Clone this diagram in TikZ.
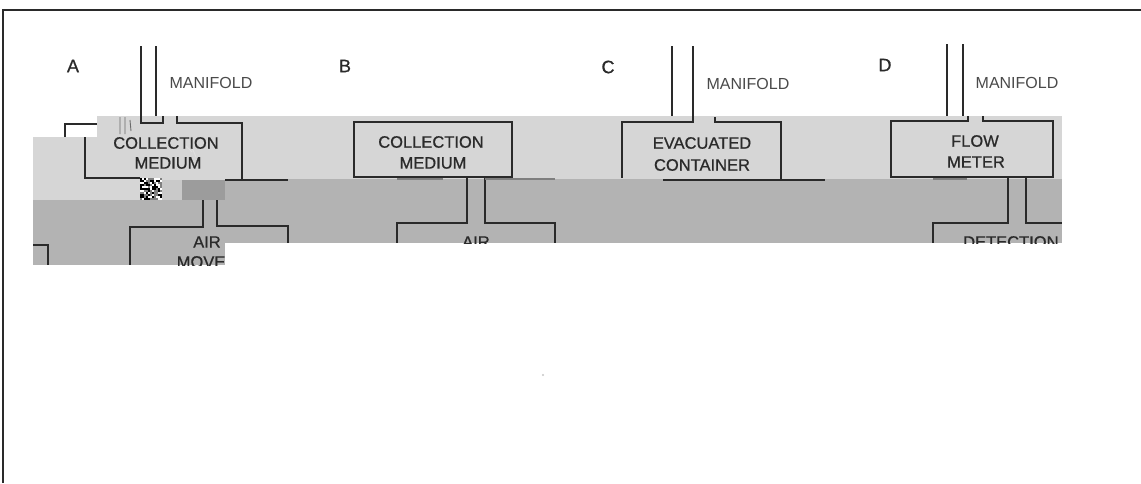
\documentclass[tikz,border=0pt]{standalone}
\usepackage{fontspec}
\setmainfont{Liberation Sans}
\newfontfamily\boxfont[FakeBold=0.8]{Liberation Sans}
\definecolor{lightband}{HTML}{D6D6D6}
\definecolor{darkband}{HTML}{B3B3B3}
\definecolor{ink}{HTML}{2A2A2A}
\definecolor{patch}{HTML}{9C9C9C}
\definecolor{midpatch}{HTML}{C9C9C9}
\begin{document}
\begin{tikzpicture}[x=1pt,y=-1pt,
  wire/.style={draw=ink,line width=1.7pt},
  faint/.style={draw=ink!60,line width=1.2pt},
  txt/.style={font=\boxfont\fontsize{16.5}{20}\selectfont,text=ink,inner sep=0pt},
  letter/.style={font=\boxfont\fontsize{18}{22}\selectfont,text=ink,inner sep=0pt},
  mani/.style={font=\fontsize{16}{20}\selectfont,text=ink!85,inner sep=0pt}]
\useasboundingbox (0,0) rectangle (1141,483);
\fill[white] (0,0) rectangle (1141,483);
% frame
\draw[ink,line width=1.3pt] (3,483) -- (3,10) -- (1141,10);
% bands
\fill[darkband] (225,179) rectangle (1062,243);
\fill[lightband] (97,116) rectangle (1062,179);
\fill[lightband] (33,137) rectangle (225,200);
\fill[darkband] (33,200) rectangle (225,265);

% ---------- panel A ----------
\node[letter] (la) at (73,66) {A};
\node[mani] (ma) at (211,83) {MANIFOLD};
\draw[wire] (141,46) -- (141,123) -- (163,123) -- (163,116);
\draw[wire] (156,46) -- (156,116);
\draw[wire] (177,116) -- (177,123) -- (242,123) -- (242,180);
\draw[wire] (225,180) -- (288,180);
\draw[wire] (97,124) -- (65,124) -- (65,137);
\draw[wire] (85,137) -- (85,178) -- (140,178);
% glitch marks
\draw[ink!70,line width=0.9pt] (120,117) -- (120,134) (125,117) -- (125,134) (130,120) -- (131,131);
\draw[white!85!ink,line width=1pt] (186,146) -- (192,152) (190,143) -- (196,157);
% noise patch
\fill[white] (140,178) rectangle (162,200);
\pgfmathsetseed{7}
\foreach \i in {0,...,10}{\foreach \j in {0,...,10}{%
  \pgfmathrandominteger{\rr}{0}{2}%
  \ifnum\rr=0 \fill[black] (140+2*\i,178+2*\j) rectangle +(2,2);\fi
  \ifnum\rr=1 \fill[gray] (140+2*\i,178+2*\j) rectangle +(2,2);\fi}}
\fill[midpatch] (162,180) rectangle (182,200);
\fill[patch] (182,180) rectangle (225,200);
% lower part (shifted)
\draw[wire] (203,200) -- (203,227) -- (130,227) -- (130,265);
\draw[wire] (217,200) -- (217,226) -- (288,226) -- (288,243);
\draw[wire] (33,245) -- (48,245) -- (48,265);
\node[txt] (ca1) at (166,143) {COLLECTION};
\node[txt] (ca2) at (168,163) {MEDIUM};
\begin{scope}
  \clip (33,200) rectangle (225,265);
  \node[txt] (aa1) at (207,242) {AIR};
  \node[txt] (aa2) at (207,262) {MOVER};
\end{scope}

% ---------- panel B ----------
\node[letter] (lb) at (345,66) {B};
\draw[wire] (354,122) rectangle (512,177);
\node[txt] (cb1) at (431,142) {COLLECTION};
\node[txt] (cb2) at (433,163) {MEDIUM};
\draw[faint] (397,179) -- (443,179);
\draw[wire] (467,177) -- (467,223) -- (397,223) -- (397,243);
\draw[wire] (485,177) -- (485,223) -- (555,223) -- (555,243);
\draw[faint] (485,179) -- (555,179);

% ---------- panel C ----------
\node[letter] (lc) at (608,67) {C};
\node[mani] (mc) at (748,84) {MANIFOLD};
\draw[wire] (672,46) -- (672,116);
\draw[wire] (693,46) -- (693,122) -- (622,122) -- (622,178);
\draw[wire] (715,117) -- (715,122) -- (781,122) -- (781,180);
\draw[wire] (663,180) -- (825,180);
\node[txt] (ec1) at (702,143) {EVACUATED};
\node[txt] (ec2) at (702,165) {CONTAINER};

% ---------- panel D ----------
\node[letter] (ld) at (885,65) {D};
\node[mani] (md) at (1017,83) {MANIFOLD};
\draw[wire] (947,44) -- (947,116);
\draw[wire] (963,44) -- (963,116);
\draw[wire] (968,116) -- (968,121) -- (891,121) -- (891,177) -- (1053,177) -- (1053,121) -- (983,121) -- (983,116);
\draw[faint] (933,179) -- (967,179);
\draw[wire] (1008,177) -- (1008,223) -- (933,223) -- (933,243);
\draw[wire] (1026,177) -- (1026,223) -- (1062,223);
\node[txt] (fd1) at (975,141) {FLOW};
\node[txt] (fd2) at (976,162) {METER};

% clipped lower texts
\begin{scope}
  \clip (225,179) rectangle (1062,243);
  \node[txt] (ab1) at (476,242) {AIR};
  \node[txt,anchor=west] (dd1) at (963,242) {DETECTION};
\end{scope}

% stray dot
\fill[gray!45] (543,375) circle (1.2);
\end{tikzpicture}
\end{document}
